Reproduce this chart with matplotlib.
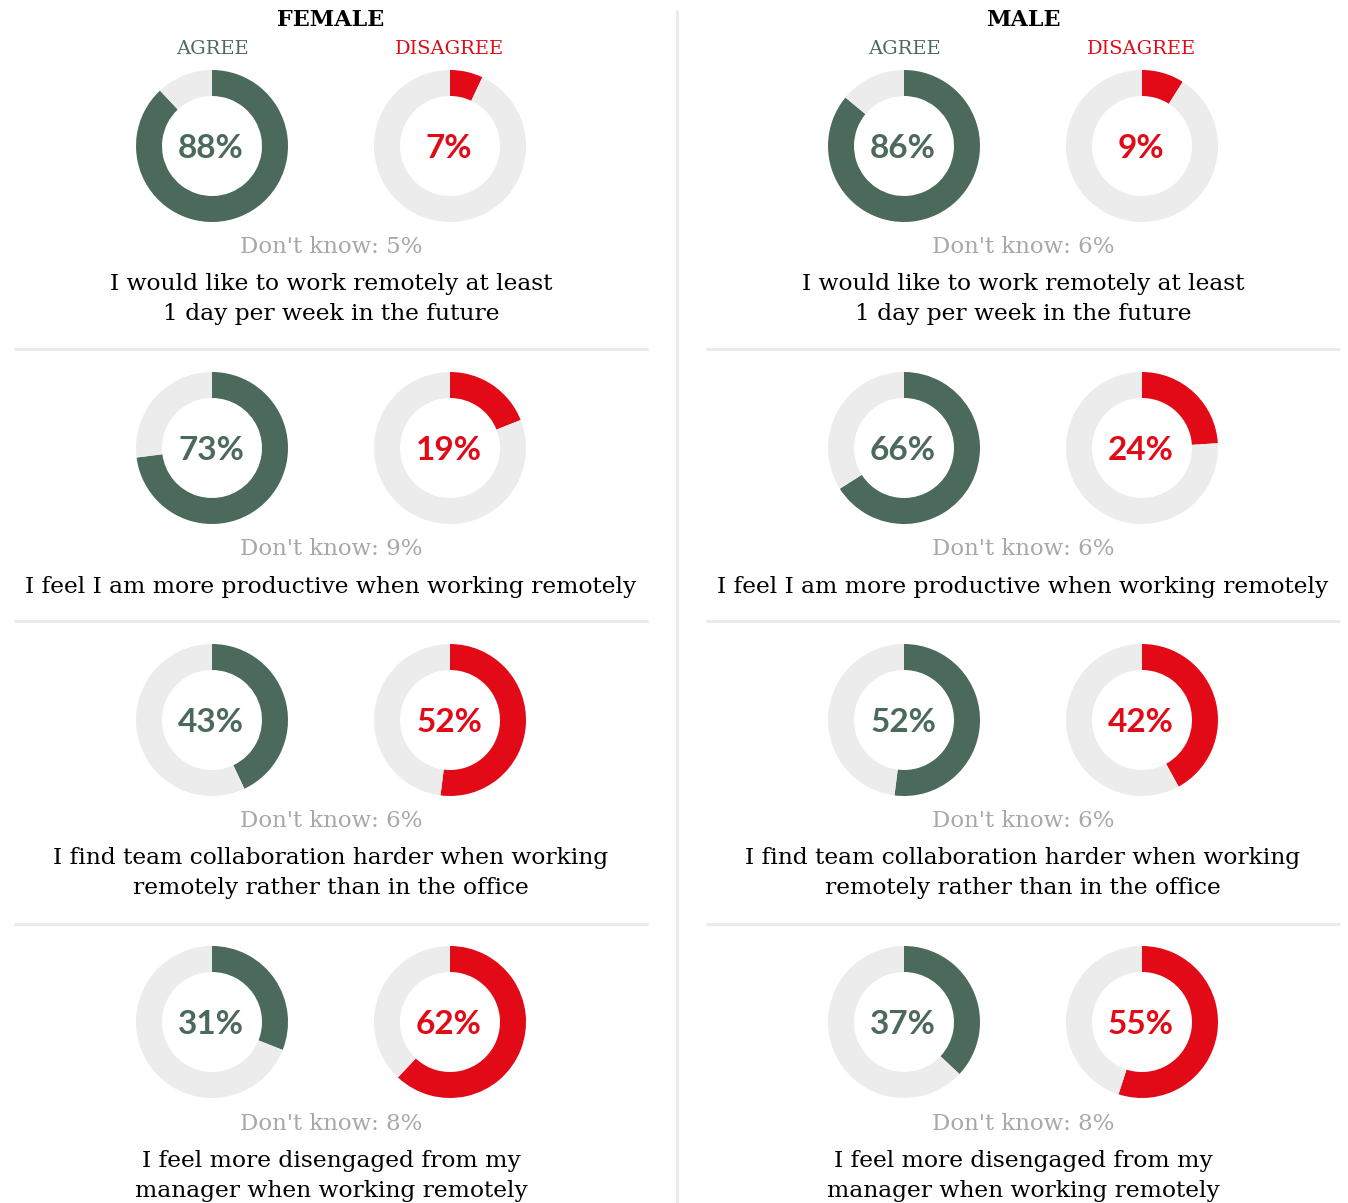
import matplotlib
matplotlib.use("Agg")
import matplotlib.pyplot as plt

# 画布尺寸（像素）
W, H = 1348, 1203
DPI = 100

# 数据
statements = [
    "I would like to work remotely at least\n1 day per week in the future",
    "I feel I am more productive when working remotely",
    "I find team collaboration harder when working\nremotely rather than in the office",
    "I feel more disengaged from my\nmanager when working remotely",
]
female_agree = [88, 73, 43, 31]
female_disagree = [7, 19, 52, 62]
female_dontknow = [5, 9, 6, 8]
male_agree = [86, 66, 52, 37]
male_disagree = [9, 24, 42, 55]
male_dontknow = [6, 6, 6, 8]

GREEN = "#4c6a5b"
RED = "#e20a16"
TRACK = "#ececec"
GREY_TEXT = "#a8a8a8"
LINE = "#ebebeb"

SERIF = "DejaVu Serif"
SANS = "Lato"

# 布局（像素）
row_y = [146, 448, 720, 1022]
dk_y = [247, 549, 821, 1124]
stmt_y = [299, 587, 873, 1176]
sep_y = [349, 621, 924]
R_OUT, R_IN = 76, 50

fig = plt.figure(figsize=(W / DPI, H / DPI), dpi=DPI)
bg = fig.add_axes([0, 0, 1, 1])
bg.set_xlim(0, W)
bg.set_ylim(H, 0)
bg.axis("off")


def donut(cx, cy, value, color):
    ax = fig.add_axes([(cx - R_OUT) / W, 1 - (cy + R_OUT) / H, 2 * R_OUT / W, 2 * R_OUT / H])
    ax.pie([value, 100 - value], colors=[color, TRACK], startangle=90, counterclock=False,
           radius=1, wedgeprops=dict(width=(R_OUT - R_IN) / R_OUT, linewidth=0))
    ax.set_xlim(-1, 1)
    ax.set_ylim(-1, 1)
    ax.set_aspect("equal")
    ax.axis("off")
    bg.text(cx - 1, cy + 3, f"{value}%", ha="center", va="center", color=color,
            fontsize=24, fontweight="bold", family=SANS)


panels = [
    ("FEMALE", 331, 212, 450, female_agree, female_disagree, female_dontknow, 14, 648),
    ("MALE", 1023, 904, 1142, male_agree, male_disagree, male_dontknow, 706, 1340),
]

for title, mx, ax_x, dx_x, agree, disagree, dk, x0, x1 in panels:
    bg.text(mx, 20, title, ha="center", va="center", fontsize=16, fontweight="bold",
            family=SERIF, color="black")
    bg.text(ax_x, 49, "AGREE", ha="center", va="center", fontsize=14, family=SERIF, color=GREEN)
    bg.text(dx_x, 49, "DISAGREE", ha="center", va="center", fontsize=14, family=SERIF, color=RED)
    for i in range(len(statements)):
        donut(ax_x, row_y[i], agree[i], GREEN)
        donut(dx_x, row_y[i], disagree[i], RED)
        bg.text(mx, dk_y[i], f"Don't know: {dk[i]}%", ha="center", va="center",
                fontsize=16.5, family=SERIF, color=GREY_TEXT)
        bg.text(mx, stmt_y[i], statements[i], ha="center", va="center", fontsize=16.8,
                family=SERIF, color="black", linespacing=1.45)
    for y in sep_y:
        bg.plot([x0, x1], [y, y], color=LINE, linewidth=2.2, solid_capstyle="butt")

bg.plot([677, 677], [10, H], color=LINE, linewidth=2.2, solid_capstyle="butt")

fig.savefig("out.png", dpi=DPI)
